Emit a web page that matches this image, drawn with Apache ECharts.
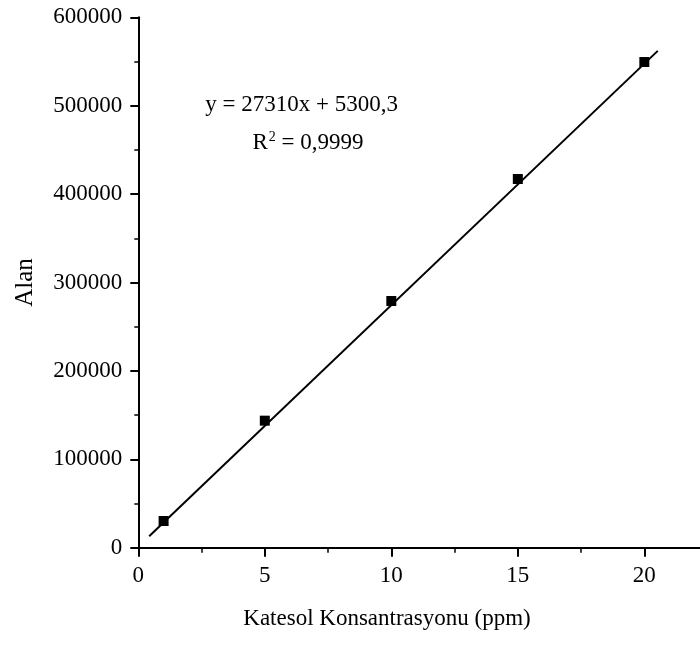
<!DOCTYPE html>
<html>
<head>
<meta charset="utf-8">
<script src="https://cdn.jsdelivr.net/npm/echarts@6/dist/echarts.min.js"></script>
<style>html,body{margin:0;padding:0;background:#fff;}#c{width:700px;height:652px;}</style>
</head>
<body>
<div id="c"></div>
<script>
// Measured points
const concentrations = [1, 5, 10, 15, 20];
const areas = [30200, 143700, 279100, 417100, 549400];
// Linear fit line endpoints
const fitX = [0.43, 20.53];
const fitY = [13000, 562000];
const xTicks = [0, 5, 10, 15, 20];
const yTicks = [0, 100000, 200000, 300000, 400000, 500000, 600000];
const xTitle = 'Katesol Konsantrasyonu (ppm)';
const yTitle = 'Alan';
const eqLine1 = 'y = 27310x + 5300,3';
const eqLine2R = 'R';
const eqLine2Sup = '2';
const eqLine2Rest = ' = 0,9999';

const FONT = '"Liberation Serif", "Times New Roman", serif';
const chart = echarts.init(document.getElementById('c'), null, {renderer: 'canvas'});

const scatterData = concentrations.map((x, i) => [x, areas[i]]);
const fitData = fitX.map((x, i) => [x, fitY[i]]);

chart.setOption({
  backgroundColor: '#fff',
  animation: false,
  grid: {left: 138.3, right: 0, top: 17.3, bottom: 104.3, containLabel: false, outerBoundsMode: 'none'},
  xAxis: {
    type: 'value', min: 0, max: 22.2, interval: 5,
    axisLine: {show: true, lineStyle: {color: '#000', width: 2}},
    axisTick: {show: true, inside: false, length: 9, customValues: xTicks, lineStyle: {color: '#000', width: 2}},
    minorTick: {show: true, splitNumber: 2, length: 5, lineStyle: {color: '#000', width: 1.5}},
    splitLine: {show: false},
    axisLabel: {color: '#000', fontFamily: FONT, fontSize: 23, margin: 17, showMaxLabel: false,
      formatter: v => (xTicks.indexOf(v) >= 0 ? String(v) : '')}
  },
  yAxis: {
    type: 'value', min: 0, max: 600000, interval: 100000,
    name: yTitle, nameLocation: 'middle', nameGap: 100, nameRotate: 90,
    nameTextStyle: {color: '#000', fontFamily: FONT, fontSize: 25},
    axisLine: {show: true, lineStyle: {color: '#000', width: 2}},
    axisTick: {show: true, inside: false, length: 8, lineStyle: {color: '#000', width: 2}},
    minorTick: {show: true, splitNumber: 2, length: 4, lineStyle: {color: '#000', width: 1.5}},
    splitLine: {show: false},
    axisLabel: {color: '#000', fontFamily: FONT, fontSize: 23, margin: 16,
      formatter: v => (yTicks.indexOf(v) >= 0 ? String(v) : '')}
  },
  series: [
    {type: 'line', data: fitData, symbol: 'none', lineStyle: {color: '#000', width: 2}, z: 2},
    {type: 'scatter', data: scatterData, symbol: 'rect', symbolSize: 10, itemStyle: {color: '#000', opacity: 1}, z: 3}
  ],
  graphic: [
    {type: 'text', x: 301.7, y: 105, style: {text: eqLine1, font: '23px ' + FONT, fill: '#000', textAlign: 'center', textVerticalAlign: 'middle'}},
    {type: 'text', x: 308, y: 143, style: {
      text: '{a|' + eqLine2R + '}{b|' + eqLine2Sup + '}{a|' + eqLine2Rest + '}',
      textAlign: 'center', textVerticalAlign: 'middle', fill: '#000',
      rich: {
        a: {fontFamily: FONT, fontSize: 23, lineHeight: 26, fill: '#000'},
        b: {fontFamily: FONT, fontSize: 14, lineHeight: 26, verticalAlign: 'top', fill: '#000', padding: [0, 0, 0, 1]}
      }
    }},
    {type: 'text', x: 387, y: 619, style: {text: xTitle, font: '23px ' + FONT, fill: '#000', textAlign: 'center', textVerticalAlign: 'middle'}}
  ]
});
</script>
</body>
</html>
